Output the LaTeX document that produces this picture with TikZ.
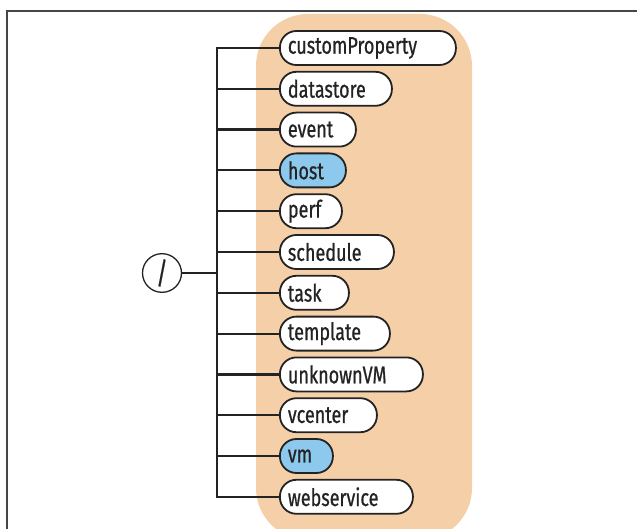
\documentclass[tikz,border=0pt]{standalone}
\usepackage{fontspec}
\usetikzlibrary{shapes.geometric}
\setmainfont[FakeStretch=0.75,FakeBold=0.7]{Fira Sans}
\definecolor{peach}{RGB}{245,207,168}
\definecolor{skyb}{RGB}{141,201,236}
\definecolor{framec}{RGB}{70,70,70}
\definecolor{inkc}{RGB}{35,35,35}
\begin{document}
\begin{tikzpicture}[x=1pt,y=-1pt,
  pill/.style={draw=inkc, line width=1.8pt, rounded corners=16.5pt, minimum height=34pt,
    anchor=west, inner xsep=8pt, inner ysep=0pt, align=left, fill=white,
    font=\fontsize{24}{25}\selectfont, text=inkc},
  hl/.style={fill=skyb},
  conn/.style={draw=inkc, line width=2.2pt},
  rootc/.style={draw=inkc, line width=1.3pt, ellipse, minimum width=39pt, minimum height=34pt, inner sep=0pt,
    font=\fontsize{30}{30}\selectfont, text=inkc}]
\useasboundingbox (0,0) rectangle (637,529);
\draw[framec, line width=1.7pt] (7,529) -- (7,11) -- (637,11);
\fill[peach, rounded corners=52pt] (256,14) rectangle (472,540);
\fill[white] (256,529) rectangle (472,545);
\node[rootc] (root) at (162,273) {/};
\coordinate (bt) at (217,48);
\coordinate (bm) at (217,273);
\coordinate (bb) at (217,496.8);
\node[pill, text width=160pt] (n1) at (279,48.0) {customProperty};
\node[pill, text width=96pt] (n2) at (279,88.8) {datastore};
\node[pill, text width=60pt] (n3) at (279,129.6) {event};
\node[pill, hl, text width=50pt] (n4) at (279,170.4) {host};
\node[pill, text width=46pt] (n5) at (279,211.2) {perf};
\node[pill, text width=98pt] (n6) at (279,252.0) {schedule};
\node[pill, text width=53pt] (n7) at (279,292.8) {task};
\node[pill, text width=94pt] (n8) at (279,333.6) {template};
\node[pill, text width=127pt] (n9) at (279,374.4) {unknownVM};
\node[pill, text width=81pt] (n10) at (279,415.2) {vcenter};
\node[pill, hl, text width=37pt] (n11) at (279,456.0) {vm};
\node[pill, text width=117pt] (n12) at (279,496.8) {webservice};
\draw[conn, line cap=rect] (bt) -- (bb);
\draw[conn] (root.east) -- (bm);
\foreach \i in {1,...,12}{
  \draw[conn] (bt |- n\i.west) -- (n\i.west);
}
\end{tikzpicture}
\end{document}
